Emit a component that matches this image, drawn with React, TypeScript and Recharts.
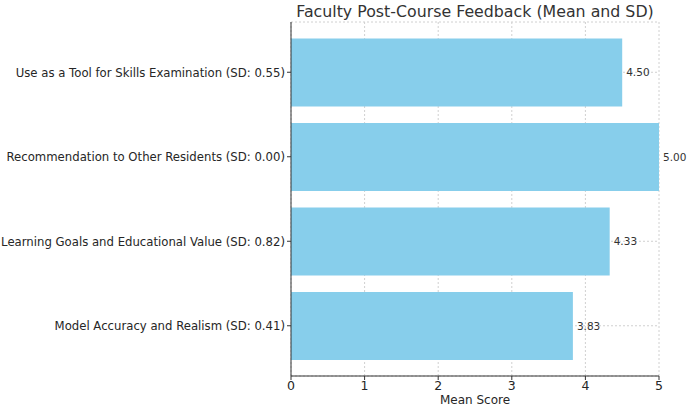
import React from 'react';
import {Bar, BarChart, CartesianGrid, LabelList, XAxis, YAxis} from 'recharts';

const CATEGORIES = [
  'Use as a Tool for Skills Examination (SD: 0.55)',
  'Recommendation to Other Residents (SD: 0.00)',
  'Learning Goals and Educational Value (SD: 0.82)',
  'Model Accuracy and Realism (SD: 0.41)',
];
const MEANS = [4.5, 5.0, 4.33, 3.83];
const X_TICKS = [0, 1, 2, 3, 4, 5];

const FONT = '"DejaVu Sans", sans-serif';

const YTick = (props: any) => {
  const {x, y, payload} = props;
  return (
    <text x={x} y={y} dy={4.5} textAnchor="end" fontSize={11.7} fill="#262626" fontFamily={FONT}>
      {payload.value}
    </text>
  );
};

const App: React.FC = () => {
  const data = CATEGORIES.map((name, i) => ({name, mean: MEANS[i]}));

  return (
    <div style={{position: 'absolute', left: 0, top: 0, width: 688, height: 407, background: '#fff', fontFamily: FONT}}>
      <div style={{position: 'absolute', left: 275, width: 400, top: 2, textAlign: 'center', fontSize: 15.8, color: '#333', whiteSpace: 'nowrap'}}>
        Faculty Post-Course Feedback (Mean and SD)
      </div>
      <BarChart
        width={688}
        height={407}
        data={data}
        layout="vertical"
        margin={{top: 22, right: 29, bottom: 0, left: 0}}
        barCategoryGap="10%"
      >
        <CartesianGrid stroke="#d0d0d0" strokeDasharray="2 2" />
        <XAxis
          type="number"
          domain={[0, 5]}
          ticks={X_TICKS}
          height={31}
          stroke="#333"
          tickLine={{stroke: '#333'}}
          tickSize={4}
          tickMargin={1}
          tick={{fontSize: 12.5, fill: '#262626', fontFamily: FONT}}
          label={{value: 'Mean Score', position: 'insideBottom', offset: 3, fontSize: 12, fill: '#262626', fontFamily: FONT}}
        />
        <YAxis
          type="category"
          dataKey="name"
          width={291}
          stroke="#333"
          tickSize={4}
          tickMargin={2}
          padding={{top: 8, bottom: 8}}
          tick={<YTick />}
          interval={0}
        />
        <Bar dataKey="mean" fill="#87CEEB" isAnimationActive={false}>
          <LabelList
            dataKey="mean"
            position="right"
            offset={4}
            formatter={(v: any) => Number(v).toFixed(2)}
            style={{fontSize: 10.5, fill: '#333', fontFamily: FONT}}
          />
        </Bar>
      </BarChart>
    </div>
  );
};

export default App;
